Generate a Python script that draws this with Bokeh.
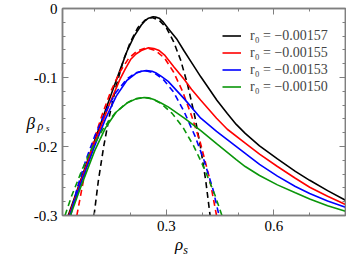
from bokeh.plotting import figure
from bokeh.layouts import column
from bokeh.models import (LinearAxis, FixedTicker, CustomJSTickFormatter, Label,
                          Legend, LegendItem, Range1d, Div)
from bokeh.embed import file_html
from bokeh.resources import INLINE

# ---------------- data ----------------
series_labels = ["r\u2080 = \u22120.00157", "r\u2080 = \u22120.00155",
                 "r\u2080 = \u22120.00153", "r\u2080 = \u22120.00150"]
series_colors = ["#000000", "#ff0000", "#0000ff", "#0a960a"]

# full solution (solid)
rho_solid_157 = [0.026, 0.06, 0.10, 0.14, 0.17, 0.19, 0.21, 0.23, 0.24, 0.25, 0.263, 0.27, 0.28, 0.29,
                 0.305, 0.33, 0.35, 0.37, 0.396, 0.42, 0.441, 0.47, 0.495, 0.52, 0.56, 0.61, 0.66,
                 0.70, 0.75, 0.80]
beta_solid_157 = [-0.300, -0.250, -0.191, -0.133, -0.090, -0.062, -0.040, -0.024, -0.018, -0.014,
                  -0.012, -0.0125, -0.014, -0.019, -0.029, -0.045, -0.062, -0.078, -0.099, -0.117,
                  -0.133, -0.152, -0.168, -0.181, -0.199, -0.218, -0.236, -0.249, -0.264, -0.278]

rho_solid_155 = [0.028, 0.06, 0.10, 0.14, 0.17, 0.185, 0.20, 0.215, 0.23, 0.25, 0.265, 0.28, 0.296,
                 0.32, 0.35, 0.37, 0.396, 0.44, 0.47, 0.52, 0.56, 0.61, 0.66, 0.70, 0.75, 0.80]
beta_solid_155 = [-0.300, -0.252, -0.194, -0.140, -0.103, -0.088, -0.074, -0.066, -0.061, -0.057,
                  -0.058, -0.061, -0.068, -0.084, -0.103, -0.117, -0.133, -0.159, -0.175, -0.195,
                  -0.211, -0.229, -0.246, -0.259, -0.272, -0.284]

rho_solid_153 = [0.030, 0.06, 0.10, 0.13, 0.16, 0.19, 0.215, 0.23, 0.244, 0.26, 0.27, 0.285, 0.305,
                 0.35, 0.396, 0.44, 0.47, 0.52, 0.56, 0.61, 0.66, 0.70, 0.75, 0.80]
beta_solid_153 = [-0.300, -0.255, -0.199, -0.160, -0.127, -0.104, -0.094, -0.091, -0.090, -0.091,
                  -0.093, -0.098, -0.1056, -0.131, -0.159, -0.178, -0.190, -0.210, -0.226, -0.243,
                  -0.258, -0.268, -0.279, -0.288]

rho_solid_150 = [0.032, 0.06, 0.10, 0.13, 0.16, 0.19, 0.215, 0.238, 0.25, 0.265, 0.285, 0.305,
                 0.35, 0.396, 0.44, 0.495, 0.52, 0.56, 0.61, 0.66, 0.70, 0.75, 0.80]
beta_solid_150 = [-0.300, -0.260, -0.206, -0.173, -0.150, -0.137, -0.131, -0.129, -0.1295, -0.132,
                  -0.137, -0.1426, -0.159, -0.177, -0.196, -0.219, -0.229, -0.242, -0.2556, -0.267,
                  -0.276, -0.286, -0.294]

# approximation (dashed)
rho_dash_157 = [0.098, 0.11, 0.125, 0.14, 0.16, 0.18, 0.20, 0.22, 0.24, 0.26, 0.28, 0.30, 0.32,
                0.34, 0.36, 0.38, 0.395, 0.41, 0.422]
beta_dash_157 = [-0.300, -0.250, -0.200, -0.158, -0.112, -0.075, -0.048, -0.028, -0.017, -0.013,
                 -0.017, -0.028, -0.048, -0.075, -0.112, -0.158, -0.200, -0.250, -0.300]

rho_dash_155 = [0.050, 0.070, 0.095, 0.120, 0.145, 0.170, 0.195, 0.220, 0.245, 0.270, 0.295, 0.320,
                0.345, 0.370, 0.395, 0.420, 0.440]
beta_dash_155 = [-0.300, -0.245, -0.195, -0.155, -0.120, -0.092, -0.072, -0.061, -0.057, -0.061,
                 -0.072, -0.092, -0.120, -0.155, -0.195, -0.245, -0.300]

rho_dash_153 = [0.033, 0.05, 0.075, 0.10, 0.13, 0.16, 0.19, 0.215, 0.24, 0.265, 0.29, 0.32, 0.35,
                0.38, 0.405, 0.43, 0.447]
beta_dash_153 = [-0.300, -0.262, -0.220, -0.185, -0.150, -0.121, -0.102, -0.093, -0.090, -0.093,
                 -0.102, -0.121, -0.150, -0.185, -0.220, -0.262, -0.300]

rho_dash_150 = [0.017, 0.036, 0.066, 0.096, 0.126, 0.156, 0.186, 0.211, 0.236, 0.261, 0.286, 0.316,
                0.346, 0.376, 0.406, 0.436, 0.455]
beta_dash_150 = [-0.300, -0.271, -0.232, -0.199, -0.172, -0.152, -0.138, -0.131, -0.129, -0.131,
                 -0.138, -0.152, -0.172, -0.199, -0.232, -0.271, -0.300]

x_major_ticks = [0.0, 0.3, 0.6, 0.9]
x_minor_ticks = [0.1, 0.2, 0.4, 0.5, 0.7, 0.8]
y_major_ticks = [0.0, -0.1, -0.2, -0.3]
y_minor_ticks = [-0.02, -0.04, -0.06, -0.08, -0.12, -0.14, -0.16, -0.18,
                 -0.22, -0.24, -0.26, -0.28]

solids = [(rho_solid_157, beta_solid_157), (rho_solid_155, beta_solid_155),
          (rho_solid_153, beta_solid_153), (rho_solid_150, beta_solid_150)]
dashes = [(rho_dash_157, beta_dash_157), (rho_dash_155, beta_dash_155),
          (rho_dash_153, beta_dash_153), (rho_dash_150, beta_dash_150)]

# ---------------- figure ----------------
GREY = "#7f7f7f"
SERIF = "Liberation Serif"

p = figure(width=346, height=240, x_range=Range1d(0.01, 0.8), y_range=Range1d(-0.3, 0.0),
           output_backend="svg", toolbar_location=None,
           min_border_left=62, min_border_right=1, min_border_top=8, min_border_bottom=25)
p.grid.visible = False
p.outline_line_color = GREY
p.outline_line_width = 1.5
p.background_fill_color = "white"
p.border_fill_color = "white"

fmt = CustomJSTickFormatter(code="return Math.abs(tick) < 1e-9 ? '0' : tick.toFixed(1);")
blank_fmt = CustomJSTickFormatter(code="return '';")


def style_axis(ax, show_labels):
    ax.axis_line_color = GREY
    ax.axis_line_width = 1.5
    ax.major_tick_line_color = GREY
    ax.minor_tick_line_color = GREY
    ax.major_tick_line_width = 1
    ax.minor_tick_line_width = 1
    ax.major_tick_in = 6
    ax.major_tick_out = 0
    ax.minor_tick_in = 3
    ax.minor_tick_out = 0
    ax.major_label_text_font = SERIF
    ax.major_label_text_color = "black"
    if show_labels:
        ax.formatter = fmt
        ax.major_label_text_font_size = "15px"
        ax.major_label_standoff = 5
    else:
        ax.formatter = blank_fmt
        ax.major_label_text_font_size = "1px"
        ax.major_label_standoff = 0


p.xaxis.ticker = FixedTicker(ticks=x_major_ticks, minor_ticks=x_minor_ticks)
p.yaxis.ticker = FixedTicker(ticks=y_major_ticks, minor_ticks=y_minor_ticks)
style_axis(p.xaxis[0], True)
style_axis(p.yaxis[0], True)

top_ax = LinearAxis(ticker=FixedTicker(ticks=x_major_ticks, minor_ticks=x_minor_ticks))
right_ax = LinearAxis(ticker=FixedTicker(ticks=y_major_ticks, minor_ticks=y_minor_ticks))
style_axis(top_ax, False)
style_axis(right_ax, False)
p.add_layout(top_ax, "above")
p.add_layout(right_ax, "right")

items = []
for (xs, ys), (xd, yd), col, lab in zip(solids, dashes, series_colors, series_labels):
    p.line(xd, yd, line_color=col, line_width=1.6, line_dash="6 4")
    r = p.line(xs, ys, line_color=col, line_width=1.6)
    items.append(LegendItem(label=lab, renderers=[r]))

legend = Legend(items=items, location=(160, 120), padding=0, margin=0, spacing=0,
                glyph_width=19, glyph_height=17, label_height=17, label_standoff=9,
                label_text_font=SERIF, label_text_font_size="14px",
                border_line_color=None, background_fill_alpha=0)
p.add_layout(legend)


# y-axis label (horizontal, italic beta with subscripts) in the left side panel
def lab(x, y, text, size):
    p.add_layout(Label(x=x, y=y, x_units="canvas", y_units="canvas", text=text,
                       text_font=SERIF, text_font_style="italic", text_font_size=size,
                       text_baseline="alphabetic", text_align="left", text_color="black"),
                 "left")


lab(26, 123, "\u03b2", "17px")
lab(37, 125, "\u03c1", "12px")
lab(45.5, 127, "s", "9px")

# x-axis label below the plot
xlabel_html = ("<div style=\"position:relative; left:175px; top:-4px; "
               "font-family:'Liberation Serif'; font-style:italic; font-size:17px; "
               "line-height:17px; white-space:nowrap; color:black;\">"
               "\u03c1<span style=\"font-size:12px; position:relative; top:4px;\">s</span></div>")
xlabel = Div(text=xlabel_html, width=346, height=15, margin=(0, 0, 0, 0),
             styles={"overflow": "visible"})

layout = column(p, xlabel, spacing=0)

open("out.html", "w").write(file_html(layout, INLINE))
